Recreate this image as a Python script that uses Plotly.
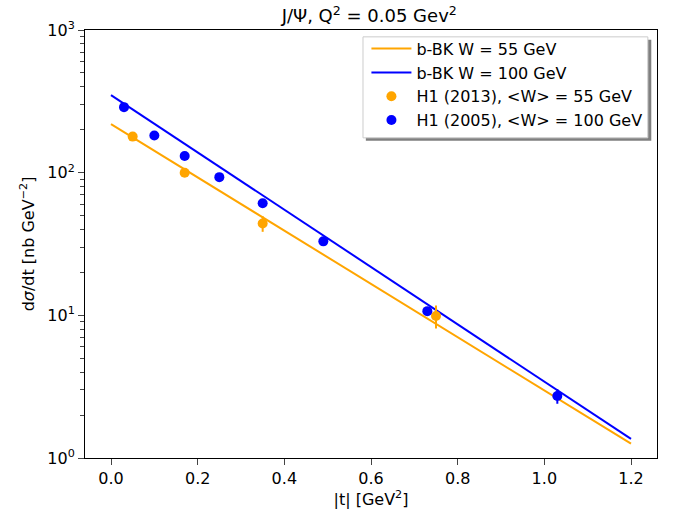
import plotly.graph_objects as go

ORANGE = "#FFA500"
BLUE = "#0000FF"
FONT = "DejaVu Sans, Arial, sans-serif"

# b-BK curves (straight lines in log scale, endpoints)
t_curve = [0.0, 1.2]
bbk_55 = [219, 1.26]
bbk_100 = [350, 1.36]

# H1 (2013), <W> = 55 GeV
t_h1_2013 = [0.05, 0.17, 0.35, 0.75]
xs_h1_2013 = [179, 100, 44, 9.9]
err_h1_2013 = [6, 5, 5.5, 1.8]

# H1 (2005), <W> = 100 GeV
t_h1_2005 = [0.03, 0.10, 0.17, 0.25, 0.35, 0.49, 0.73, 1.03]
xs_h1_2005 = [288, 182, 131, 93, 61, 33, 10.7, 2.72]
err_h1_2005 = [12, 10, 6, 5, 3.5, 1.5, 0.6, 0.32]

x_ticks = [0.0, 0.2, 0.4, 0.6, 0.8, 1.0, 1.2]
y_ticks = [1, 10, 100, 1000]
y_ticktext = ["10<sup>0</sup>", "10<sup>1</sup>", "10<sup>2</sup>", "10<sup>3</sup>"]
y_minor = [2, 3, 4, 5, 6, 7, 8, 9, 20, 30, 40, 50, 60, 70, 80, 90,
           200, 300, 400, 500, 600, 700, 800, 900]

fig = go.Figure()
fig.add_trace(go.Scatter(x=t_curve, y=bbk_55, mode="lines", name="b-BK W = 55 GeV",
                         line=dict(color=ORANGE, width=2)))
fig.add_trace(go.Scatter(x=t_curve, y=bbk_100, mode="lines", name="b-BK W = 100 GeV",
                         line=dict(color=BLUE, width=2)))
fig.add_trace(go.Scatter(x=t_h1_2013, y=xs_h1_2013, mode="markers", name="H1 (2013), &lt;W&gt; = 55 GeV",
                         marker=dict(color=ORANGE, size=10),
                         error_y=dict(type="data", array=err_h1_2013, color=ORANGE, thickness=2, width=0)))
fig.add_trace(go.Scatter(x=t_h1_2005, y=xs_h1_2005, mode="markers", name="H1 (2005), &lt;W&gt; = 100 GeV",
                         marker=dict(color=BLUE, size=10),
                         error_y=dict(type="data", array=err_h1_2005, color=BLUE, thickness=2, width=0)))

# legend frame + drop shadow (matplotlib style)
fig.add_shape(type="rect", xref="paper", yref="paper", x0=0.491, x1=0.990, y0=0.741, y1=0.977,
              fillcolor="#7f7f7f", line=dict(width=0), layer="below")
fig.add_shape(type="rect", xref="paper", yref="paper", x0=0.486, x1=0.984, y0=0.748, y1=0.984,
              fillcolor="white", line=dict(color="#cccccc", width=1), layer="below")

fig.update_layout(
    width=675, height=516,
    margin=dict(l=85, r=18, t=30, b=58),
    paper_bgcolor="white", plot_bgcolor="white",
    font=dict(family=FONT, size=16, color="black"),
    title=dict(text="J/Ψ, Q<sup>2</sup> = 0.05 Gev<sup>2</sup>", x=0.547, xanchor="center",
               y=0.969, yanchor="middle", font=dict(size=18)),
    legend=dict(x=0.492, y=0.996, xanchor="left", yanchor="top", bgcolor="rgba(0,0,0,0)",
                borderwidth=0, font=dict(size=16), tracegroupgap=0, itemwidth=40),
    showlegend=True,
)
fig.update_xaxes(range=[-0.06, 1.26], tickvals=x_ticks, tickformat=".1f",
                 ticks="outside", ticklen=6, showgrid=False, zeroline=False, showline=True,
                 linecolor="black", linewidth=1, mirror=True,
                 title=dict(text="|t| [GeV<sup>2</sup>]", font=dict(size=16), standoff=6))
fig.update_yaxes(type="log", range=[0, 3], tickvals=y_ticks, ticktext=y_ticktext,
                 ticks="outside", ticklen=6, showgrid=False, zeroline=False, showline=True,
                 linecolor="black", linewidth=1, mirror=True,
                 minor=dict(tickvals=y_minor, ticks="outside", ticklen=4, showgrid=False),
                 title=dict(text="d<i>σ</i>/dt [nb GeV<sup>−2</sup>]", font=dict(size=16), standoff=8))

# drop the default 8px page margin so the figure fills the window
fig.write_html("out.html", config={"displayModeBar": False},
               post_script="document.body.style.margin = '0';")
